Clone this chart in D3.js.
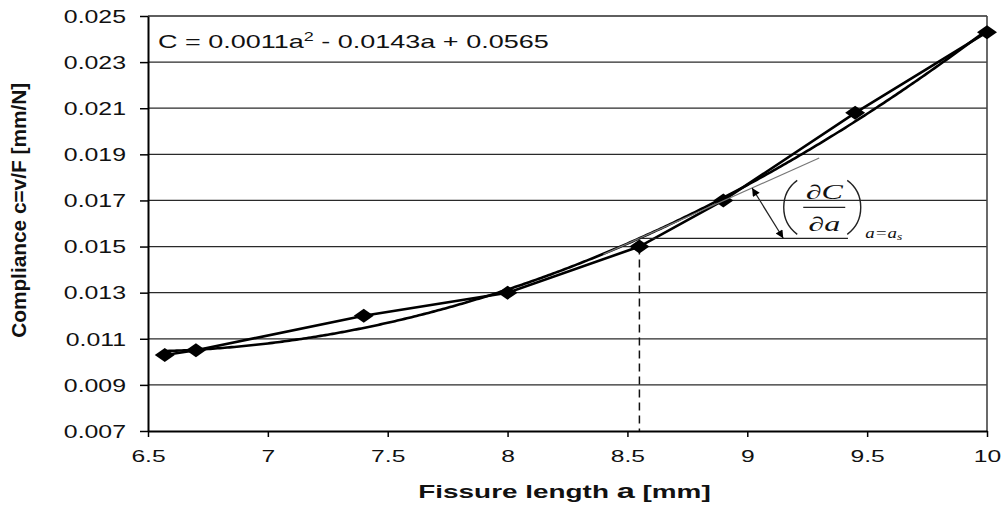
<!DOCTYPE html>
<html>
<head>
<meta charset="utf-8">
<script src="https://cdn.jsdelivr.net/npm/d3@7"></script>
<style>
  body { margin: 0; background: #fff; }
  svg { display: block; }
  text { font-family: "Liberation Sans", Arial, sans-serif; fill: #111; }
</style>
</head>
<body>
<div id="chart"></div>
<script>
// measured points
const fissureLength = [6.57, 6.7, 7.4, 8.0, 8.55, 8.9, 9.45, 10.0]
const compliance = [0.0103, 0.0105, 0.0120, 0.0130, 0.0150, 0.0170, 0.0208, 0.0243]

const xTicks = [6.5, 7, 7.5, 8, 8.5, 9, 9.5, 10]
const yTicks = [0.007, 0.009, 0.011, 0.013, 0.015, 0.017, 0.019, 0.021, 0.023, 0.025]

const xTitle = "Fissure length"
const yTitle = "Compliance c=v/F [mm/N]"
const equation = ["C = 0.0011a", "2", " - 0.0143a + 0.0565"]

// tangent annotation (a = a_s)
const aS = 8.55
const tangentRange = [8.4, 9.3]
const baseLineEnd = 9.42
const arrowFrom = 9.02
const arrowTo = 9.15

const W = 1003, H = 506
const margin = { top: 16, right: 16, bottom: 75, left: 148 }

const svg = d3.select("#chart").append("svg")
  .attr("width", W)
  .attr("height", H)

const x = d3.scaleLinear().domain([6.5, 10]).range([margin.left, W - margin.right])
const y = d3.scaleLinear().domain([0.007, 0.025]).range([H - margin.bottom, margin.top])

// quadratic least squares (excel style trendline)
function polyfit2(xs, ys) {
  const s = k => d3.sum(xs, v => Math.pow(v, k))
  const t = k => d3.sum(xs, (v, i) => Math.pow(v, k) * ys[i])
  const A = [
    [s(4), s(3), s(2), t(2)],
    [s(3), s(2), s(1), t(1)],
    [s(2), s(1), xs.length, t(0)]
  ]
  for (let i = 0; i < 3; i++) {
    for (let j = i + 1; j < 3; j++) {
      const f = A[j][i] / A[i][i]
      for (let k = i; k < 4; k++) A[j][k] -= f * A[i][k]
    }
  }
  const c = [0, 0, 0]
  for (let i = 2; i >= 0; i--) {
    let v = A[i][3]
    for (let k = i + 1; k < 3; k++) v -= A[i][k] * c[k]
    c[i] = v / A[i][i]
  }
  return c
}
const coef = polyfit2(fissureLength, compliance)
const fit = a => coef[0] * a * a + coef[1] * a + coef[2]
const fitSlope = a => 2 * coef[0] * a + coef[1]

// gridlines
svg.append("g")
  .selectAll("line")
  .data(yTicks.slice(1))
  .join("line")
    .attr("x1", x(6.5)).attr("x2", x(10))
    .attr("y1", d => y(d)).attr("y2", d => y(d))
    .attr("stroke", "#2a2a2a")
    .attr("stroke-width", 1.3)

svg.append("line")
  .attr("x1", x(10)).attr("x2", x(10))
  .attr("y1", y(0.025)).attr("y2", y(0.007))
  .attr("stroke", "#444")
  .attr("stroke-width", 1.6)

// axes
const yAxis = svg.append("g")
  .attr("transform", `translate(${margin.left},0)`)
  .call(d3.axisLeft(y).tickValues(yTicks).tickSize(8).tickSizeOuter(0).tickFormat(d3.format(".3f")))
yAxis.select(".domain").attr("stroke", "#000").attr("stroke-width", 2)
yAxis.selectAll(".tick line").attr("stroke", "#000").attr("stroke-width", 1.5)
yAxis.selectAll(".tick text")
  .attr("x", 0).attr("dy", "0.36em")
  .attr("fill", "#111")
  .style("font-size", "17.5px")
  .style("font-family", "'Liberation Sans', Arial, sans-serif")
  .attr("transform", "translate(-22,0) scale(1.42,1)")

const xAxis = svg.append("g")
  .attr("transform", `translate(0,${y(0.007)})`)
  .call(d3.axisBottom(x).tickValues(xTicks).tickSize(6).tickSizeOuter(0).tickFormat(d3.format("")))
xAxis.select(".domain").attr("stroke", "#000").attr("stroke-width", 2)
xAxis.selectAll(".tick line").attr("stroke", "#000").attr("stroke-width", 1.5)
xAxis.selectAll(".tick text")
  .attr("y", 0).attr("dy", null)
  .attr("fill", "#111")
  .style("font-size", "17px")
  .style("font-family", "'Liberation Sans', Arial, sans-serif")
  .attr("transform", "translate(0,31) scale(1.45,1)")

// axis titles
const xt = svg.append("text")
  .attr("transform", `translate(${(x(6.5) + x(10)) / 2 - 3},${H - 8}) scale(1.55,1)`)
  .attr("text-anchor", "middle")
  .style("font-size", "18px")
  .style("font-weight", "bold")
xt.append("tspan").text(xTitle + " ")
xt.append("tspan").style("font-size", "21px").text("a")
xt.append("tspan").text(" [mm]")

svg.append("text")
  .attr("transform", `translate(26,${(y(0.0102) + y(0.0232)) / 2 + 3}) rotate(-90)`)
  .attr("text-anchor", "middle")
  .attr("textLength", 255)
  .attr("lengthAdjust", "spacingAndGlyphs")
  .style("font-size", "21px")
  .style("font-weight", "bold")
  .text(yTitle)

// equation
const eq = svg.append("text")
  .attr("transform", `translate(${margin.left + 10},${y(0.025) + 32}) scale(1.5,1)`)
  .style("font-size", "18px")
eq.append("tspan").text(equation[0])
eq.append("tspan").attr("dy", -7).style("font-size", "12px").text(equation[1])
eq.append("tspan").attr("dy", 7).text(equation[2])

// dashed drop line at a_s
svg.append("line")
  .attr("x1", x(aS)).attr("x2", x(aS))
  .attr("y1", y(compliance[fissureLength.indexOf(aS)])).attr("y2", y(0.007))
  .attr("stroke", "#111")
  .attr("stroke-width", 1.5)
  .attr("stroke-dasharray", "8,5")

// trendline
const trend = d3.range(fissureLength[0], d3.max(fissureLength) + 1e-9, 0.01)
svg.append("path")
  .datum(trend)
  .attr("fill", "none")
  .attr("stroke", "#000")
  .attr("stroke-width", 2.6)
  .attr("d", d3.line().x(d => x(d)).y(d => y(fit(d))))

// data line + markers
const pts = fissureLength.map((a, i) => [a, compliance[i]])
svg.append("path")
  .datum(pts)
  .attr("fill", "none")
  .attr("stroke", "#000")
  .attr("stroke-width", 2.6)
  .attr("d", d3.line().x(d => x(d[0])).y(d => y(d[1])))

svg.append("g")
  .selectAll("path")
  .data(pts)
  .join("path")
    .attr("transform", d => `translate(${x(d[0])},${y(d[1])})`)
    .attr("d", "M0,-7L10,0L0,7L-10,0Z")
    .attr("fill", "#000")

// tangent at a_s and horizontal reference
const cS = fit(aS)
const tan = a => cS + fitSlope(aS) * (a - aS)
svg.append("line")
  .attr("x1", x(tangentRange[0])).attr("y1", y(tan(tangentRange[0])))
  .attr("x2", x(tangentRange[1])).attr("y2", y(tan(tangentRange[1])))
  .attr("stroke", "#777")
  .attr("stroke-width", 1.2)

svg.append("line")
  .attr("x1", x(aS)).attr("y1", y(cS))
  .attr("x2", x(baseLineEnd)).attr("y2", y(cS))
  .attr("stroke", "#222")
  .attr("stroke-width", 1.2)

svg.append("defs").append("marker")
  .attr("id", "head")
  .attr("viewBox", "0 0 10 10")
  .attr("refX", 10).attr("refY", 5)
  .attr("markerWidth", 11).attr("markerHeight", 8)
  .attr("markerUnits", "userSpaceOnUse")
  .attr("orient", "auto-start-reverse")
  .append("path")
    .attr("d", "M0,0L10,5L0,10Z")
    .attr("fill", "#000")

svg.append("line")
  .attr("x1", x(arrowFrom)).attr("y1", y(tan(arrowFrom)))
  .attr("x2", x(arrowTo)).attr("y2", y(cS))
  .attr("stroke", "#222")
  .attr("stroke-width", 1.2)
  .attr("marker-start", "url(#head)")
  .attr("marker-end", "url(#head)")

// (dC/da) label
const lab = svg.append("g")
  .attr("transform", `translate(${x(arrowTo)},${y(0.0167)})`)
lab.append("path")
  .attr("d", "M14,-27C-4,-14 -4,14 14,27")
  .attr("fill", "none").attr("stroke", "#222").attr("stroke-width", 1.4)
lab.append("path")
  .attr("d", "M64,-27C82,-14 82,14 64,27")
  .attr("fill", "none").attr("stroke", "#222").attr("stroke-width", 1.4)
lab.append("line")
  .attr("x1", 20).attr("x2", 62).attr("y1", 0).attr("y2", 0)
  .attr("stroke", "#222").attr("stroke-width", 1.2)
const serif = "'Liberation Serif', 'DejaVu Serif', serif"
lab.append("text")
  .attr("transform", "translate(41,-8) scale(1.6,1)")
  .attr("text-anchor", "middle")
  .style("font-family", serif).style("font-style", "italic").style("font-size", "20px")
  .text("∂C")
lab.append("text")
  .attr("transform", "translate(41,24) scale(1.6,1)")
  .attr("text-anchor", "middle")
  .style("font-family", serif).style("font-style", "italic").style("font-size", "20px")
  .text("∂a")
const sub = lab.append("text")
  .attr("transform", "translate(82,31) scale(1.35,1)")
  .style("font-family", serif).style("font-style", "italic").style("font-size", "14px")
sub.append("tspan").text("a=a")
sub.append("tspan").attr("dy", 2).style("font-size", "10px").text("s")
</script>
</body>
</html>
